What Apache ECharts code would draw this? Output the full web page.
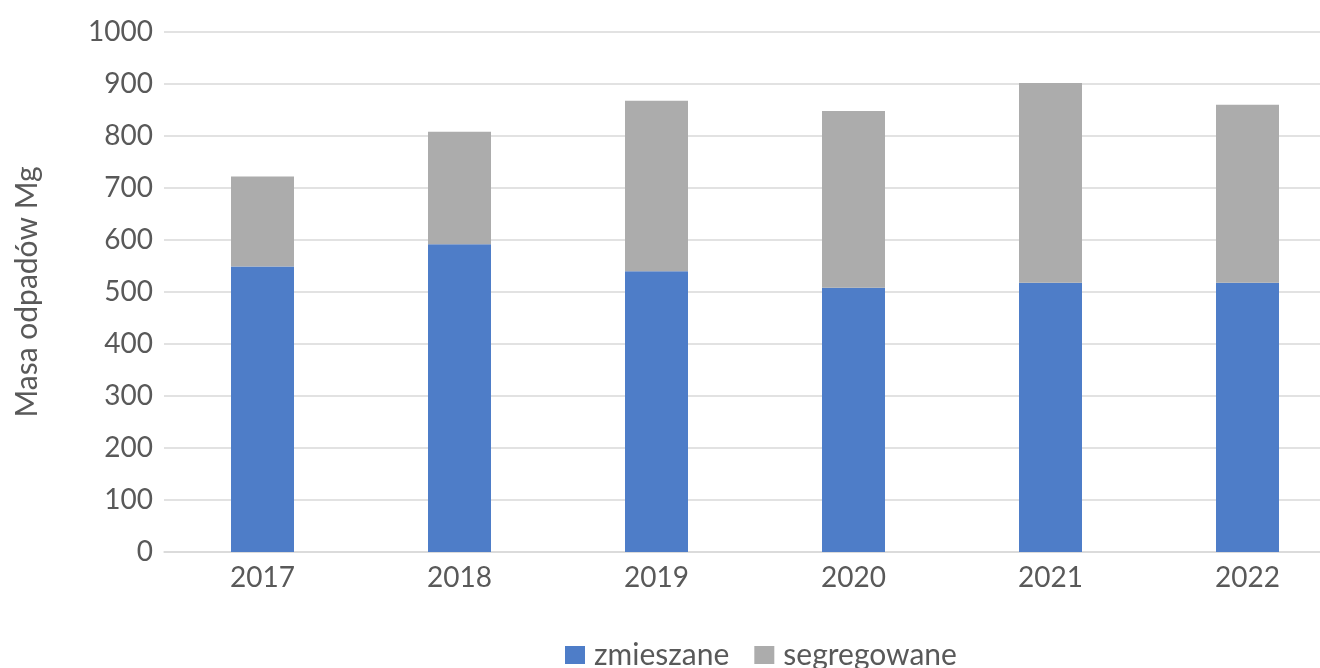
<!DOCTYPE html>
<html><head><meta charset="utf-8">
<script src="https://cdn.jsdelivr.net/npm/echarts@6/dist/echarts.min.js"></script>
<style>html,body{margin:0;padding:0;background:#fff}#c{width:1320px;height:668px}</style>
</head><body><div id="c"></div>
<script>
const years = ['2017','2018','2019','2020','2021','2022'];
const zmieszane = [549, 592, 540, 508, 518, 518];
const segregowane = [173, 216, 328, 340, 384, 342];
const seriesNames = ['zmieszane','segregowane'];
const yAxisTitle = 'Masa odpadów Mg';

const chart = echarts.init(document.getElementById('c'));
const font = 'Lato, "Open Sans", sans-serif';
chart.setOption({
  animation:false,
  textStyle:{fontFamily:font},
  grid:{left:164, top:32, width:1182, height:520, containLabel:false, outerBoundsMode:'none'},
  legend:{
    left:560, top:635, itemWidth:20, itemHeight:18, itemGap:25,
    icon:'rect',
    textStyle:{fontSize:30, color:'#595959', fontFamily:font, padding:[0,0,0,4]},
    data:seriesNames
  },
  xAxis:{
    type:'category', data:years,
    axisLine:{lineStyle:{color:'#d9d9d9', width:1.5}},
    axisTick:{show:false},
    axisLabel:{fontSize:28, color:'#595959', margin:12, fontFamily:font}
  },
  yAxis:{
    type:'value', min:0, max:1000, interval:100,
    name:yAxisTitle, nameLocation:'middle', nameRotate:90, nameGap:122,
    nameTextStyle:{fontSize:30, color:'#595959', fontFamily:font},
    axisLine:{show:false}, axisTick:{show:false},
    axisLabel:{fontSize:28, color:'#595959', margin:11, fontFamily:font, formatter:function(v){return String(v);}},
    splitLine:{lineStyle:{color:'#d9d9d9', width:1.5}}
  },
  series:[
    {name:seriesNames[0], type:'bar', stack:'a', data:zmieszane, barWidth:63, itemStyle:{color:'#4e7dc8'}},
    {name:seriesNames[1], type:'bar', stack:'a', data:segregowane, barWidth:63, itemStyle:{color:'#acacac'}}
  ]
});
</script></body></html>
